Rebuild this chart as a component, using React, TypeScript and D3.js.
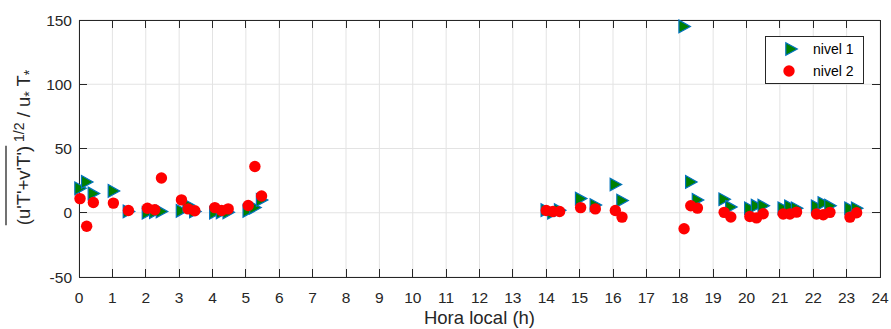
import React, { useEffect, useRef } from 'react'
import * as d3 from 'd3'

// hours shared by both levels
const horas = [
  0.03, 0.23, 0.43, 1.03, 1.48, 2.05, 2.27, 2.47, 3.07, 3.27, 3.47, 4.07, 4.27, 4.47, 5.07, 5.27, 5.47,
  14.0, 14.2, 14.4, 15.03, 15.47, 16.07, 16.27, 18.13, 18.33, 18.53, 19.33, 19.53, 20.1, 20.3, 20.5,
  21.1, 21.3, 21.5, 22.1, 22.3, 22.5, 23.1, 23.3,
]
const nivel1 = [
  19, 24, 15, 17, 1, 0, 0.5, 1, 1.5, 6, 1, 0, 0.3, 0.3, 1.5, 4, 10,
  2, 0, 2, 11, 6, 22, 9.5, 145, 24, 10, 10.5, 4.5, 3.5, 5.5, 5.5,
  3.5, 5, 3.5, 5, 7.5, 5.5, 3.5, 3.5,
]
const nivel2 = [
  11, -10.5, 8, 7.5, 1.8, 3.5, 2.3, 27, 10, 3, 1.5, 4, 1.8, 3, 5.7, 36, 13,
  1.8, 1, 1, 4, 3, 1.8, -3.4, -12.5, 5.5, 3.6, 0.3, -3.3, -2.9, -4, -0.8,
  -1, -1, 0.5, -1, -1.5, 0.3, -3.4, 0,
]
const xTicks = d3.range(0, 25)
const yTicks = [-50, 0, 50, 100, 150]

const W = 891
const H = 329
const margin = { left: 79, right: 11, top: 20, bottom: 52 }
const FONT = 'Liberation Sans, Arial, sans-serif'
const AX = '#262626'

export default function App() {
  const ref = useRef<SVGSVGElement>(null)

  useEffect(() => {
    document.body.style.margin = '0'
    if (!ref.current) return
    const svg = d3.select(ref.current)
    svg.selectAll('*').remove()

    const x = d3.scaleLinear().domain([0, 24]).range([margin.left, W - margin.right])
    const y = d3.scaleLinear().domain([-50, 150]).range([H - margin.bottom, margin.top])
    const [x0, x1] = x.range()
    const [y0, y1] = y.range()

    svg.append('rect').attr('width', W).attr('height', H).attr('fill', '#fff')

    // grid
    const grid = svg.append('g').attr('stroke', '#e3e3e3').attr('stroke-width', 1)
    xTicks.forEach((t) => {
      grid.append('line').attr('x1', x(t)).attr('x2', x(t)).attr('y1', y0).attr('y2', y1)
    })
    yTicks.forEach((t) => {
      grid.append('line').attr('x1', x0).attr('x2', x1).attr('y1', y(t)).attr('y2', y(t))
    })

    // box and ticks
    const tl = 8
    const ax = svg.append('g').attr('stroke', AX).attr('stroke-width', 1).attr('shape-rendering', 'crispEdges')
    ax.append('rect').attr('x', x0).attr('y', y1).attr('width', x1 - x0).attr('height', y0 - y1).attr('fill', 'none')
    xTicks.forEach((t) => {
      ax.append('line').attr('x1', x(t)).attr('x2', x(t)).attr('y1', y0).attr('y2', y0 - tl)
      ax.append('line').attr('x1', x(t)).attr('x2', x(t)).attr('y1', y1).attr('y2', y1 + tl)
    })
    yTicks.forEach((t) => {
      ax.append('line').attr('x1', x0).attr('x2', x0 + tl).attr('y1', y(t)).attr('y2', y(t))
      ax.append('line').attr('x1', x1).attr('x2', x1 - tl).attr('y1', y(t)).attr('y2', y(t))
    })

    svg.append('g')
      .selectAll('text')
      .data(xTicks)
      .enter()
      .append('text')
      .attr('x', (d) => x(d))
      .attr('y', y0 + 26)
      .attr('text-anchor', 'middle')
      .attr('font-family', FONT)
      .attr('font-size', 15.5)
      .attr('fill', AX)
      .text((d) => d)

    svg.append('g')
      .selectAll('text')
      .data(yTicks)
      .enter()
      .append('text')
      .attr('x', x0 - 7)
      .attr('y', (d) => y(d) + 5.5)
      .attr('text-anchor', 'end')
      .attr('font-family', FONT)
      .attr('font-size', 15.5)
      .attr('fill', AX)
      .text((d) => d)

    svg.append('text')
      .attr('x', (x0 + x1) / 2)
      .attr('y', H - 5)
      .attr('text-anchor', 'middle')
      .attr('font-family', FONT)
      .attr('font-size', 18.5)
      .attr('fill', AX)
      .text('Hora local (h)')

    // y label
    const lx = 30
    const ly = (y0 + y1) / 2 - 1
    const yl = svg.append('text')
      .attr('transform', `translate(${lx},${ly}) rotate(-90)`)
      .attr('text-anchor', 'middle')
      .attr('font-family', FONT)
      .attr('font-size', 18.5)
      .attr('fill', AX)
    const over = yl.append('tspan').text("(u'T'+v'T')")
    yl.append('tspan').attr('font-size', 14).attr('dy', -6).text(' 1/2')
    yl.append('tspan').attr('dy', 6).text(' / u')
    yl.append('tspan').attr('font-size', 14).attr('dy', 4).text('*')
    yl.append('tspan').attr('dy', -4).text(' T')
    yl.append('tspan').attr('font-size', 14).attr('dy', 4).text('*')
    const node = over.node() as SVGTSpanElement
    const total = (yl.node() as SVGTextElement).getComputedTextLength()
    const len = node.getComputedTextLength()
    const start = -total / 2
    svg.append('line')
      .attr('transform', `translate(${lx},${ly}) rotate(-90)`)
      .attr('x1', start)
      .attr('x2', start + len)
      .attr('y1', -24)
      .attr('y2', -24)
      .attr('stroke', AX)
      .attr('stroke-width', 1.3)

    // markers
    const tri = (cx: number, cy: number, s: number) =>
      `M${cx - s * 0.45},${cy - s * 0.55}L${cx + s * 0.55},${cy}L${cx - s * 0.45},${cy + s * 0.55}Z`

    const pts = svg.append('g')
    pts.selectAll('path.n1')
      .data(horas)
      .enter()
      .append('path')
      .attr('class', 'n1')
      .attr('d', (h, i) => tri(x(h), y(nivel1[i]), 11.5))
      .attr('fill', '#008000')
      .attr('stroke', '#0072BD')
      .attr('stroke-width', 1.2)
      .attr('stroke-linejoin', 'miter')

    pts.selectAll('circle.n2')
      .data(horas)
      .enter()
      .append('circle')
      .attr('class', 'n2')
      .attr('cx', (h) => x(h))
      .attr('cy', (h, i) => y(nivel2[i]))
      .attr('r', 5.7)
      .attr('fill', '#ff0000')

    // legend
    const lg = svg.append('g')
    lg.append('rect')
      .attr('x', 765.5).attr('y', 36.5).attr('width', 98).attr('height', 47)
      .attr('fill', '#fff').attr('stroke', '#262626').attr('stroke-width', 1)
    lg.append('path').attr('d', tri(791, 49, 11.5)).attr('fill', '#008000').attr('stroke', '#0072BD').attr('stroke-width', 1.2)
    lg.append('circle').attr('cx', 789).attr('cy', 71).attr('r', 5.7).attr('fill', '#ff0000')
    lg.append('text').attr('x', 813).attr('y', 54).attr('font-family', FONT).attr('font-size', 14).attr('fill', '#000').text('nivel 1')
    lg.append('text').attr('x', 813).attr('y', 76).attr('font-family', FONT).attr('font-size', 14).attr('fill', '#000').text('nivel 2')
  }, [])

  return <svg ref={ref} width={W} height={H} style={{ display: 'block' }} />
}
